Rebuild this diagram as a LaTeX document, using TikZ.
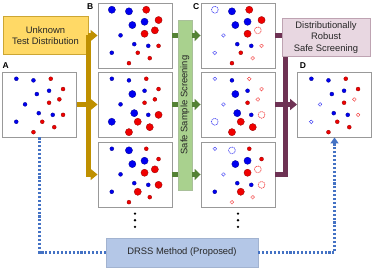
\documentclass[tikz,border=0pt]{standalone}
\usepackage{fontspec}
\setmainfont{Liberation Sans}
\usepackage{xcolor}
\usepackage{tikz}
\usetikzlibrary{arrows.meta,positioning,calc}

\definecolor{goldarr}{HTML}{BF9000}
\definecolor{goldbox}{HTML}{FFD966}
\definecolor{grnbox}{HTML}{A9D18E}
\definecolor{grnarr}{HTML}{548235}
\definecolor{purarr}{HTML}{6E3254}
\definecolor{purbox}{HTML}{E8D7E1}
\definecolor{drssbox}{HTML}{B4C7E7}
\definecolor{drssline}{HTML}{4472C4}
\definecolor{ptblue}{HTML}{0000F0}
\definecolor{ptred}{HTML}{F00000}

% point layout shared by all panels (from panel top left)
\def\ptx{{14.3,31.4,48.7,34.8,47.0,61.0,23.0,47.0,57.3,36.7,50.7,61.0,14.2,40.2,52.2,31.4}}
\def\pty{{7.2,8.8,7.2,22.5,19.2,17.5,32.8,31.2,27.8,41.6,43.3,43.3,50.2,50.2,55.6,60.6}}
\newcommand{\scatter}[2]{%
  \foreach \k [count=\i from 0] in {#2} {
    \pgfmathsetmacro{\px}{\ptx[\i]}
    \pgfmathsetmacro{\py}{\pty[\i]}
    \path[\k] ($(#1.north west)+(\px,\py)$) circle[];
  }}

\begin{document}
\begin{tikzpicture}[
  x=1pt, y=-1pt,
  font=\fontsize{9.4}{11.7}\selectfont,
  panel/.style={draw=black!40, line width=0.9pt, fill=white, inner sep=0pt, minimum width=74pt, minimum height=65pt},
  tag/.style={font=\fontsize{8.5}{10}\selectfont\bfseries, inner sep=0pt},
  textbox/.style={align=center, text=black!85, inner sep=0pt},
  bs/.style={fill=ptblue, draw=ptblue!60!black, line width=0.3pt, radius=2pt},
  bb/.style={fill=ptblue, draw=ptblue!60!black, line width=0.3pt, radius=3.6pt},
  rs/.style={fill=ptred, draw=ptred!60!black, line width=0.3pt, radius=2pt},
  rb/.style={fill=ptred, draw=ptred!60!black, line width=0.3pt, radius=3.6pt},
  bso/.style={draw=ptblue!70!white, line width=0.7pt, dash pattern=on 0.9pt off 0.6pt, radius=1.8pt},
  bbo/.style={draw=ptblue!70!white, line width=0.7pt, dash pattern=on 1.2pt off 0.7pt, radius=3.4pt},
  rso/.style={draw=ptred!70!white, line width=0.7pt, dash pattern=on 0.9pt off 0.6pt, radius=1.8pt},
  rbo/.style={draw=ptred!70!white, line width=0.7pt, dash pattern=on 1.2pt off 0.7pt, radius=3.4pt},
  goldln/.style={goldarr, line width=5pt},
  grnln/.style={grnarr, line width=4.5pt},
  purln/.style={purarr, line width=5pt},
  dssln/.style={drssline, line width=2.3pt, dash pattern=on 2.1pt off 1.8pt},
  fat/.style={-{Triangle[length=7pt, width=11pt]}}]
  \useasboundingbox (0,0) rectangle (374,270);
  % boxes
  \node[textbox, draw=goldarr!80, fill=goldbox, minimum width=85pt, minimum height=38pt] (unk) at (45.5,35.5) {Unknown\\Test Distribution};
  \node[draw=grnarr!50, fill=grnbox, minimum width=14pt, minimum height=170pt, inner sep=0pt] (ssb) at (185,105) {};
  \node[textbox, rotate=90] (ssbtxt) at (ssb) {Safe Sample Screening};
  \node[textbox, draw=purarr!45, fill=purbox, minimum width=88pt, minimum height=38pt] (drs) at (326,37.5) {Distributionally\\Robust\\Safe Screening};
  \node[textbox, draw=drssbox!90!black, fill=drssbox, minimum width=152pt, minimum height=29pt] (drss) at (182,252.5) {DRSS Method (Proposed)};
  % panels
  \node[panel] (a) at (39.5,104.5) {};
  \node[panel] (b1) at (135,35.5) {};
  \node[panel] (b2) at (135,104.5) {};
  \node[panel] (b3) at (135,174.5) {};
  \node[panel] (c1) at (238,35.5) {};
  \node[panel] (c2) at (238,104.5) {};
  \node[panel] (c3) at (238,174.5) {};
  \node[panel] (d) at (334.5,104.5) {};
  \node[tag] (la) at ($(a.north west)+(3.7,-6)$) {A};
  \node[tag] (lb) at ($(b1.north west)+(-7.3,3.7)$) {B};
  \node[tag] (lc) at ($(c1.north west)+(-4.3,3.7)$) {C};
  \node[tag] (ld) at ($(d.north west)+(6,-6)$) {D};
  % points
  \scatter{a}{bs,bs,rs,bs,bs,rs,bs,rs,rs,bs,bs,rs,bs,rs,rs,rs}
  \scatter{b1}{bb,bb,rb,bb,bb,rb,bs,rb,rb,bs,bs,rs,bs,rs,rs,rs}
  \scatter{b2}{bs,bs,rs,bb,bs,rs,bs,rs,rs,bb,bs,rb,bb,rb,rb,rb}
  \scatter{b3}{bs,bb,rs,bb,bb,rs,bs,rb,rb,bs,bs,rb,bs,rb,rs,rs}
  \scatter{c1}{bbo,bb,rb,bb,bb,rb,bso,rb,rbo,bs,bs,rso,bso,rs,rso,rs}
  \scatter{c2}{bso,bs,rso,bb,bs,rso,bso,rs,rso,bb,bs,rbo,bbo,rb,rb,rb}
  \scatter{c3}{bso,bbo,rs,bb,bb,rs,bso,rb,rbo,bs,bs,rbo,bs,rb,rso,rso}
  \scatter{d}{bs,bs,rs,bs,bs,rs,bso,rs,rso,bs,bs,rso,bso,rs,rs,rs}
  \foreach \k in {1,2,3} {
    \fill ($(b3.south)+(0,6.6*\k-0.4)$) circle (1.3pt);
    \fill ($(c3.south)+(0,6.6*\k-0.4)$) circle (1.3pt);
  }
  % sampling
  \draw[goldln, fat] (unk.east) -- (b1.west);
  \draw[goldln, fat] (unk.east) |- (b3.west);
  \draw[goldln, fat] (a.east) -- (b2.west);
  % screening
  \foreach \p in {b1,b2,b3}
    \draw[grnln] (\p.east) -- (\p.east -| ssb.west);
  \foreach \p in {c1,c2,c3}
    \draw[grnln, -{Triangle[length=6pt, width=11pt]}] (ssb.east |- \p.west) -- (\p.west);
  % robust
  \coordinate (pjoin) at ($(drs.south west)+(4,0)$);
  \draw[purln] (c1.east) -- (c1.east -| drs.west);
  \draw[purln] (c3.east) -| (pjoin);
  \draw[purln, fat] (c2.east) -- (d.west);
  % proposed
  \draw[dssln] (a.south) |- (drss.west);
  \draw[dssln, -{Triangle[length=6pt, width=8pt]}] (drss.east) -| (d.south);
\end{tikzpicture}
\end{document}
